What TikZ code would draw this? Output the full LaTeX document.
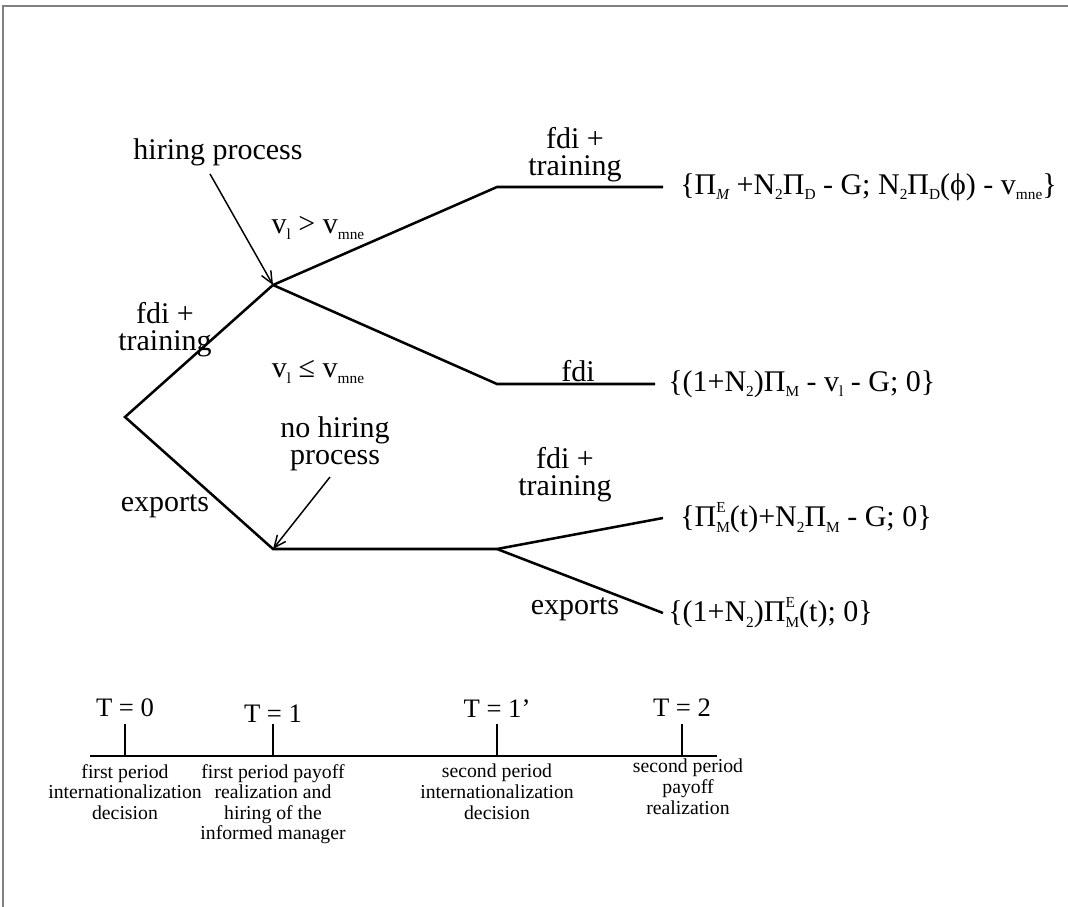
\documentclass[tikz,border=0pt]{standalone}
\usepackage{fontspec}
\setmainfont{Liberation Serif}
\usetikzlibrary{arrows.meta}
\newcommand\lo[1]{\raisebox{-0.4ex}{\fontsize{11.5}{12}\selectfont #1}}
\newcommand\hilo[2]{\makebox[0pt][l]{\raisebox{1.0ex}{\fontsize{11.5}{12}\selectfont #1}}\raisebox{-0.4ex}{\fontsize{11.5}{12}\selectfont #2}}
\begin{document}
\begin{tikzpicture}[x=0.75pt,y=-0.75pt,
  tree/.style={line width=1.9pt,line join=miter},
  ptr/.style={line width=1.1pt,-{Straight Barb[length=9pt,width=8pt,line width=1.1pt]}},
  lbl/.style={font=\fontsize{22.5}{20}\selectfont,inner sep=0pt,align=center},
  pay/.style={font=\fontsize{22.5}{20}\selectfont,inner sep=0pt,anchor=west},
  tlab/.style={font=\fontsize{20}{20}\selectfont,inner sep=0pt,anchor=south},
  tdesc/.style={font=\fontsize{14.8}{15.4}\selectfont,inner sep=0pt,anchor=north,align=center}]
\useasboundingbox (0,0) rectangle (1068,907);
\draw[gray,line width=1.5pt] (3,907) -- (3,6) -- (1068,6);
% tree coordinates
\coordinate (r) at (125,417);
\coordinate (u) at (273,285);
\coordinate (l) at (273,549);
\coordinate (ua) at (497,187);
\coordinate (ub) at (663,187);
\coordinate (va) at (497,384);
\coordinate (vb) at (655,384);
\coordinate (m) at (497,549);
\coordinate (ma) at (663,518);
\coordinate (mb) at (663,613);
\draw[tree] (ub) -- (ua) -- (u) -- (r) -- (l) -- (m) -- (ma);
\draw[tree] (u) -- (va) -- (vb);
\draw[tree] (m) -- (mb);
% payoffs
\node[pay] (p1) at (680,187) {\{Π\lo{\itshape M} +N\lo{2}Π\lo{D} - G; N\lo{2}Π\lo{D}(ϕ) - v\lo{mne}\}};
\node[pay] (p2) at (668,384) {\{(1+N\lo{2})Π\lo{M} - v\lo{l} - G; 0\}};
\node[pay] (p3) at (680,518) {\{Π\hilo{E}{M}(t)+N\lo{2}Π\lo{M} - G; 0\}};
\node[pay] (p4) at (668,613) {\{(1+N\lo{2})Π\hilo{E}{M}(t); 0\}};
% labels
\node[lbl] (t1) at (575,155) {fdi +\\training};
\node[lbl] (hp) at (218,152) {hiring process};
\node[lbl] (c1) at (318,228) {v\lo{l} > v\lo{mne}};
\node[lbl] (t2) at (165,330) {fdi +\\training};
\node[lbl] (c2) at (318,372) {v\lo{l} ≤ v\lo{mne}};
\node[lbl] (f1) at (578,371) {fdi};
\node[lbl] (nh) at (335,444) {no hiring\\process};
\node[lbl] (e1) at (165,506) {exports};
\node[lbl] (t3) at (565,475) {fdi +\\training};
\node[lbl] (e2) at (575,609) {exports};
\draw[ptr] (hp.south) ++(-8,8) coordinate (hs) -- (u);
\coordinate (ns) at (330,477);
\draw[ptr] (ns) -- (l);
% timeline
\coordinate (a) at (90,756);
\coordinate (b) at (717,756);
\draw[tree] (a) -- (b);
\foreach \n/\x in {k0/125,k1/273,k2/497,k3/682}{
  \coordinate (\n) at (\x,756);
  \draw[tree] (\n) -- ++(0,-32) coordinate (\n t);
}
\node[tlab] (T0) at (125,717) {T = 0};
\node[tlab] (T1) at (273,723) {T = 1};
\node[tlab] (T2) at (497,718) {T = 1'};
\node[tlab] (T3) at (682,717) {T = 2};
\node[tdesc] (d0) at (125,764) {first period\\internationalization\\decision};
\node[tdesc] (d1) at (273,764) {first period payoff\\realization and\\hiring of the\\informed manager};
\node[tdesc] (d2) at (497,764) {second period\\internationalization\\decision};
\node[tdesc] (d3) at (688,759) {second period\\payoff\\realization};
\end{tikzpicture}
\end{document}
